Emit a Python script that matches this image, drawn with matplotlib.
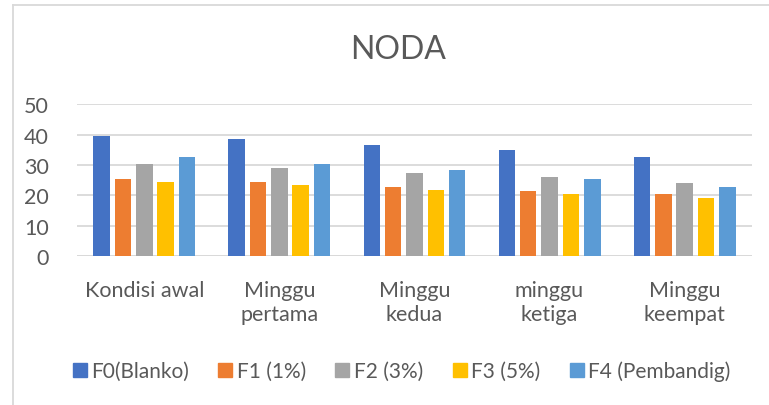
import matplotlib
matplotlib.use("Agg")
import matplotlib.pyplot as plt
import numpy as np
from matplotlib.lines import Line2D

categories = ["Kondisi awal", "Minggu\npertama", "Minggu\nkedua", "minggu\nketiga", "Minggu\nkeempat"]
series_names = ["F0(Blanko)", "F1 (1%)", "F2 (3%)", "F3 (5%)", "F4 (Pembandig)"]
f0 = [39.5, 38.5, 36.4, 34.9, 32.5]
f1 = [25.4, 24.5, 22.8, 21.5, 20.4]
f2 = [30.2, 28.9, 27.4, 25.9, 23.9]
f3 = [24.5, 23.5, 21.8, 20.4, 19.2]
f4 = [32.5, 30.2, 28.2, 25.2, 22.8]
series = [f0, f1, f2, f3, f4]
colors = ["#4472C4", "#ED7D31", "#A5A5A5", "#FFC000", "#5B9BD5"]
yticks = [0, 10, 20, 30, 40, 50]

plt.rcParams['font.family'] = ['Lato', 'DejaVu Sans']
txt = "#595959"

fig = plt.figure(figsize=(7.69, 4.06), dpi=100)
ax = fig.add_axes([0.100, 0.367, 0.878, 0.374])

x = np.arange(len(categories))
pitch = 0.158
width = 0.123
for i, (vals, c) in enumerate(zip(series, colors)):
    ax.bar(x + (i - 2) * pitch, vals, width=width, color=c, label=series_names[i], zorder=3)

ax.set_xlim(-0.5, len(categories) - 0.5)
ax.set_ylim(0, 50)
ax.set_yticks(yticks)
ax.set_yticklabels([str(t) for t in yticks], fontsize=15.5, color=txt)
ax.grid(axis='y', color="#D9D9D9", linewidth=1.3, zorder=0)
ax.set_xticks(x)
ax.set_xticklabels(categories, fontsize=15.5, color=txt, linespacing=1.25)
ax.tick_params(axis='both', length=0)
ax.tick_params(axis='x', pad=17)
ax.tick_params(axis='y', pad=20)
for s in ax.spines.values():
    s.set_visible(False)
ax.axhline(0, color="#D9D9D9", linewidth=1.3, zorder=2)

fig.text(0.517, 1 - 50 / 406, "NODA", ha='center', va='center', fontsize=23, color=txt)

handles = [Line2D([0], [0], marker='s', linestyle='none', markersize=10,
                  markerfacecolor=c, markeredgecolor=c) for c in colors]
fig.legend(handles, series_names, loc='center', bbox_to_anchor=(0.52, 1 - 372 / 406),
           ncol=5, frameon=False, fontsize=15, labelcolor=txt,
           handletextpad=0.05, columnspacing=1.25, handlelength=1.0)

# chart border (top and left visible)
fig.add_artist(Line2D([13 / 769, 13 / 769], [0, 1 - 6 / 406], transform=fig.transFigure,
                      color="#D9D9D9", linewidth=1.3))
fig.add_artist(Line2D([13 / 769, 1], [1 - 6 / 406, 1 - 6 / 406], transform=fig.transFigure,
                      color="#D9D9D9", linewidth=1.3))

fig.savefig("out.png", dpi=100)
